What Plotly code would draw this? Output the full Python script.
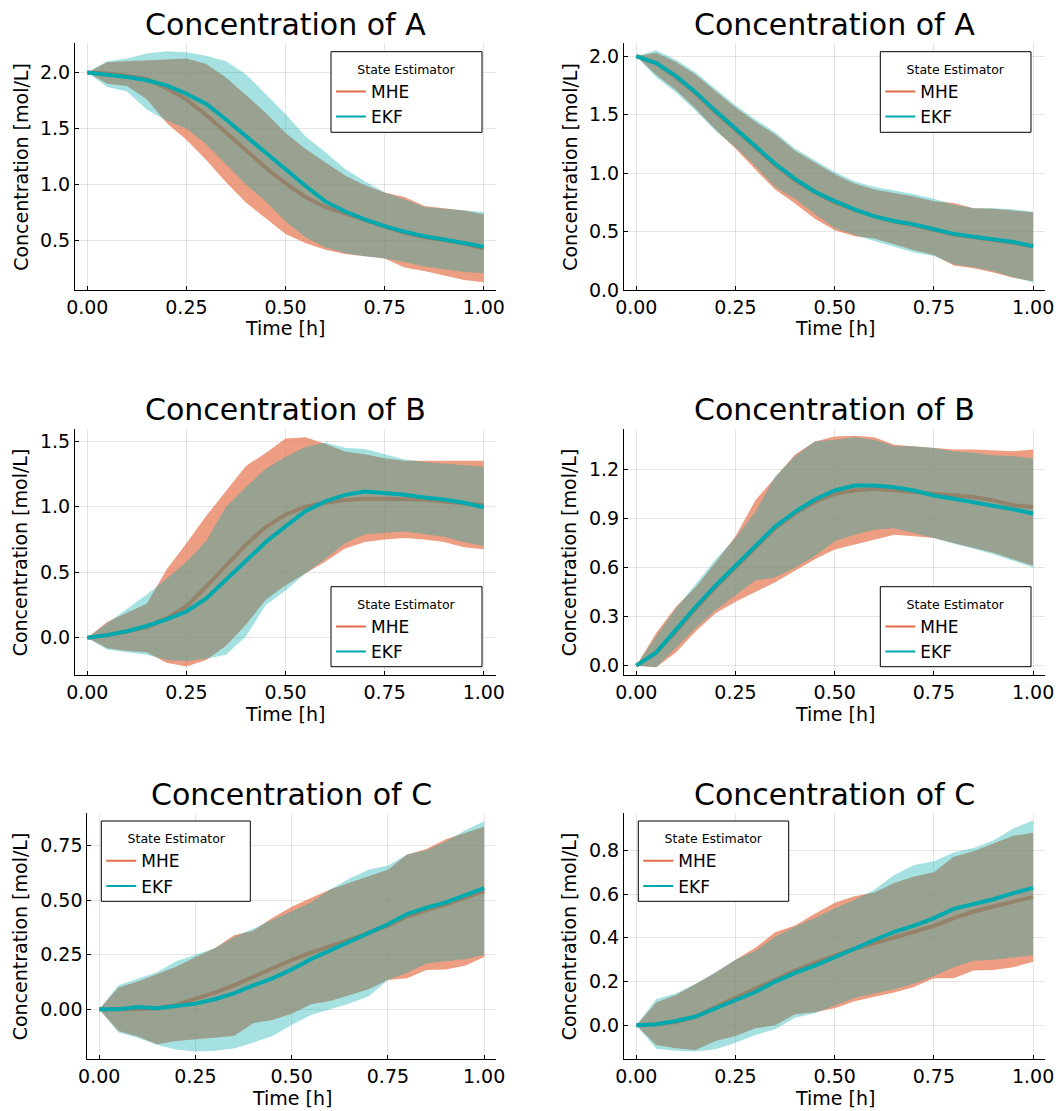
import plotly.graph_objects as go

# ---------------- data ----------------
time_h = [0.00, 0.05, 0.10, 0.15, 0.20, 0.25, 0.30, 0.35, 0.40, 0.45, 0.50,
          0.55, 0.60, 0.65, 0.70, 0.75, 0.80, 0.85, 0.90, 0.95, 1.00]

# Panel 1: Concentration of A (left)
A1_MHE_mean = [2.00, 1.99, 1.97, 1.94, 1.86, 1.76, 1.62, 1.46, 1.30, 1.15, 1.01, 0.89, 0.80, 0.74, 0.68, 0.625, 0.57, 0.53, 0.505, 0.475, 0.43]
A1_MHE_hi = [2.00, 2.09, 2.10, 2.11, 2.12, 2.125, 2.075, 1.955, 1.80, 1.64, 1.46, 1.32, 1.20, 1.08, 0.995, 0.93, 0.89, 0.81, 0.79, 0.77, 0.735]
A1_MHE_lo = [2.00, 1.90, 1.88, 1.76, 1.55, 1.40, 1.22, 1.02, 0.84, 0.70, 0.56, 0.48, 0.42, 0.38, 0.36, 0.34, 0.26, 0.23, 0.19, 0.15, 0.13]
A1_EKF_mean = [2.00, 1.98, 1.96, 1.93, 1.885, 1.81, 1.72, 1.58, 1.43, 1.29, 1.13, 0.99, 0.85, 0.76, 0.69, 0.63, 0.58, 0.54, 0.51, 0.48, 0.445]
A1_EKF_hi = [2.00, 2.10, 2.125, 2.17, 2.19, 2.18, 2.15, 2.10, 1.985, 1.81, 1.63, 1.43, 1.29, 1.14, 1.03, 0.93, 0.87, 0.80, 0.785, 0.77, 0.755]
A1_EKF_lo = [2.00, 1.87, 1.83, 1.67, 1.57, 1.50, 1.36, 1.18, 1.00, 0.85, 0.67, 0.53, 0.44, 0.39, 0.36, 0.34, 0.31, 0.27, 0.245, 0.22, 0.21]

# Panel 2: Concentration of A (right)
A2_MHE_mean = [2.00, 1.94, 1.82, 1.68, 1.52, 1.37, 1.21, 1.07, 0.94, 0.835, 0.75, 0.685, 0.63, 0.585, 0.555, 0.515, 0.475, 0.45, 0.43, 0.405, 0.37]
A2_MHE_hi = [2.00, 2.03, 1.95, 1.84, 1.70, 1.56, 1.44, 1.33, 1.19, 1.09, 0.99, 0.91, 0.86, 0.83, 0.80, 0.76, 0.745, 0.70, 0.695, 0.68, 0.665]
A2_MHE_lo = [2.00, 1.84, 1.71, 1.55, 1.37, 1.21, 1.03, 0.86, 0.74, 0.61, 0.51, 0.46, 0.44, 0.39, 0.34, 0.30, 0.21, 0.185, 0.15, 0.105, 0.075]
A2_EKF_mean = [2.00, 1.94, 1.83, 1.69, 1.53, 1.38, 1.22, 1.08, 0.95, 0.84, 0.76, 0.69, 0.63, 0.59, 0.56, 0.52, 0.48, 0.455, 0.435, 0.41, 0.375]
A2_EKF_hi = [2.00, 2.05, 1.97, 1.86, 1.72, 1.58, 1.46, 1.35, 1.21, 1.11, 1.01, 0.93, 0.88, 0.85, 0.82, 0.78, 0.73, 0.70, 0.70, 0.69, 0.67]
A2_EKF_lo = [2.00, 1.82, 1.69, 1.53, 1.36, 1.22, 1.06, 0.88, 0.78, 0.65, 0.53, 0.47, 0.42, 0.37, 0.32, 0.29, 0.22, 0.195, 0.16, 0.11, 0.065]

# Panel 3: Concentration of B (left)
B1_MHE_mean = [0.00, 0.02, 0.05, 0.08, 0.15, 0.24, 0.39, 0.55, 0.71, 0.845, 0.94, 1.00, 1.03, 1.05, 1.06, 1.06, 1.06, 1.055, 1.04, 1.025, 1.01]
B1_MHE_hi = [0.00, 0.12, 0.19, 0.26, 0.52, 0.72, 0.93, 1.12, 1.31, 1.41, 1.52, 1.53, 1.48, 1.42, 1.40, 1.37, 1.35, 1.35, 1.35, 1.35, 1.35]
B1_MHE_lo = [0.00, -0.08, -0.10, -0.11, -0.19, -0.22, -0.17, -0.06, 0.10, 0.29, 0.40, 0.49, 0.58, 0.68, 0.73, 0.75, 0.76, 0.75, 0.73, 0.69, 0.675]
B1_EKF_mean = [0.00, 0.02, 0.05, 0.09, 0.14, 0.20, 0.30, 0.44, 0.58, 0.73, 0.85, 0.965, 1.04, 1.09, 1.115, 1.105, 1.09, 1.07, 1.055, 1.03, 0.995]
B1_EKF_hi = [0.00, 0.11, 0.22, 0.33, 0.45, 0.58, 0.74, 1.00, 1.15, 1.29, 1.38, 1.455, 1.49, 1.45, 1.44, 1.40, 1.36, 1.34, 1.33, 1.32, 1.305]
B1_EKF_lo = [0.00, -0.09, -0.11, -0.13, -0.17, -0.18, -0.16, -0.13, 0.01, 0.25, 0.36, 0.49, 0.60, 0.72, 0.79, 0.80, 0.81, 0.79, 0.77, 0.73, 0.70]

# Panel 4: Concentration of B (right)
B2_MHE_mean = [0.00, 0.08, 0.21, 0.35, 0.48, 0.60, 0.72, 0.84, 0.93, 1.00, 1.05, 1.07, 1.08, 1.07, 1.06, 1.05, 1.04, 1.03, 1.01, 0.98, 0.97]
B2_MHE_hi = [0.00, 0.20, 0.36, 0.48, 0.63, 0.79, 1.01, 1.15, 1.29, 1.37, 1.40, 1.405, 1.395, 1.35, 1.34, 1.33, 1.32, 1.32, 1.315, 1.31, 1.32]
B2_MHE_lo = [0.00, -0.01, 0.08, 0.21, 0.32, 0.39, 0.45, 0.51, 0.58, 0.65, 0.71, 0.74, 0.77, 0.80, 0.79, 0.78, 0.75, 0.72, 0.69, 0.65, 0.61]
B2_EKF_mean = [0.00, 0.08, 0.22, 0.36, 0.49, 0.61, 0.73, 0.85, 0.94, 1.015, 1.07, 1.10, 1.10, 1.09, 1.07, 1.04, 1.02, 1.00, 0.98, 0.955, 0.93]
B2_EKF_hi = [0.00, 0.18, 0.35, 0.50, 0.65, 0.78, 0.94, 1.155, 1.28, 1.37, 1.38, 1.395, 1.38, 1.34, 1.34, 1.33, 1.31, 1.30, 1.285, 1.28, 1.267]
B2_EKF_lo = [0.00, -0.01, 0.11, 0.23, 0.34, 0.43, 0.52, 0.54, 0.60, 0.67, 0.76, 0.80, 0.83, 0.84, 0.81, 0.78, 0.745, 0.715, 0.68, 0.64, 0.60]

# Panel 5: Concentration of C (left)
C1_MHE_mean = [0.00, 0.00, 0.00, 0.005, 0.02, 0.049, 0.076, 0.11, 0.15, 0.186, 0.226, 0.26, 0.287, 0.318, 0.35, 0.385, 0.425, 0.455, 0.48, 0.51, 0.542]
C1_MHE_hi = [0.00, 0.10, 0.127, 0.16, 0.195, 0.24, 0.28, 0.34, 0.36, 0.42, 0.47, 0.51, 0.55, 0.58, 0.61, 0.64, 0.71, 0.735, 0.78, 0.81, 0.837]
C1_MHE_lo = [0.00, -0.10, -0.125, -0.16, -0.145, -0.137, -0.13, -0.122, -0.064, -0.049, -0.021, 0.023, 0.038, 0.066, 0.092, 0.134, 0.142, 0.18, 0.183, 0.20, 0.24]
C1_EKF_mean = [0.00, 0.00, 0.01, 0.005, 0.015, 0.026, 0.046, 0.073, 0.11, 0.142, 0.183, 0.23, 0.27, 0.31, 0.35, 0.39, 0.437, 0.466, 0.49, 0.524, 0.556]
C1_EKF_hi = [0.00, 0.11, 0.14, 0.17, 0.22, 0.25, 0.28, 0.33, 0.37, 0.41, 0.45, 0.49, 0.55, 0.60, 0.64, 0.66, 0.71, 0.73, 0.77, 0.82, 0.863]
C1_EKF_lo = [0.00, -0.107, -0.13, -0.163, -0.186, -0.194, -0.19, -0.18, -0.153, -0.122, -0.072, -0.026, 0.00, 0.027, 0.06, 0.134, 0.168, 0.21, 0.22, 0.23, 0.25]

# Panel 6: Concentration of C (right)
C2_MHE_mean = [0.00, 0.005, 0.015, 0.04, 0.085, 0.127, 0.165, 0.207, 0.25, 0.287, 0.32, 0.35, 0.375, 0.40, 0.427, 0.454, 0.49, 0.52, 0.543, 0.565, 0.587]
C2_MHE_hi = [0.00, 0.104, 0.139, 0.19, 0.24, 0.30, 0.355, 0.425, 0.456, 0.51, 0.56, 0.59, 0.607, 0.65, 0.68, 0.70, 0.77, 0.795, 0.83, 0.866, 0.88]
C2_MHE_lo = [0.00, -0.09, -0.105, -0.113, -0.072, -0.049, -0.014, 0.00, 0.05, 0.06, 0.078, 0.11, 0.13, 0.15, 0.175, 0.215, 0.215, 0.25, 0.253, 0.265, 0.29]
C2_EKF_mean = [0.00, 0.005, 0.02, 0.04, 0.078, 0.113, 0.152, 0.20, 0.24, 0.273, 0.31, 0.35, 0.39, 0.427, 0.456, 0.49, 0.532, 0.555, 0.576, 0.604, 0.628]
C2_EKF_hi = [0.00, 0.119, 0.146, 0.19, 0.244, 0.30, 0.34, 0.405, 0.45, 0.49, 0.535, 0.573, 0.62, 0.687, 0.733, 0.75, 0.79, 0.81, 0.845, 0.90, 0.936]
C2_EKF_lo = [0.00, -0.107, -0.116, -0.12, -0.11, -0.08, -0.044, -0.018, 0.035, 0.055, 0.09, 0.125, 0.145, 0.165, 0.19, 0.225, 0.265, 0.295, 0.30, 0.31, 0.32]

# tick labels
x_tickvals = [0.0, 0.25, 0.5, 0.75, 1.0]
x_ticktext = ["0.00", "0.25", "0.50", "0.75", "1.00"]
A1_yticks = ([0.5, 1.0, 1.5, 2.0], ["0.5", "1.0", "1.5", "2.0"])
A2_yticks = ([0.0, 0.5, 1.0, 1.5, 2.0], ["0.0", "0.5", "1.0", "1.5", "2.0"])
B1_yticks = ([0.0, 0.5, 1.0, 1.5], ["0.0", "0.5", "1.0", "1.5"])
B2_yticks = ([0.0, 0.3, 0.6, 0.9, 1.2], ["0.0", "0.3", "0.6", "0.9", "1.2"])
C1_yticks = ([0.0, 0.25, 0.5, 0.75], ["0.00", "0.25", "0.50", "0.75"])
C2_yticks = ([0.0, 0.2, 0.4, 0.6, 0.8], ["0.0", "0.2", "0.4", "0.6", "0.8"])

titles = ["Concentration of A", "Concentration of A", "Concentration of B",
          "Concentration of B", "Concentration of C", "Concentration of C"]
estimators = ["MHE", "EKF"]
x_label = "Time [h]"
y_label = "Concentration [mol/L]"
legend_title = "State Estimator"

# ---------------- styling / layout ----------------
W, H = 1062, 1111
FONT = "DejaVu Sans"
COLORS = {"MHE": "#E36F47", "EKF": "#00A9AD"}
FILLS = {"MHE": "rgba(227,111,71,0.68)", "EKF": "rgba(0,169,173,0.35)"}

series = [
    {"MHE": (A1_MHE_mean, A1_MHE_lo, A1_MHE_hi), "EKF": (A1_EKF_mean, A1_EKF_lo, A1_EKF_hi)},
    {"MHE": (A2_MHE_mean, A2_MHE_lo, A2_MHE_hi), "EKF": (A2_EKF_mean, A2_EKF_lo, A2_EKF_hi)},
    {"MHE": (B1_MHE_mean, B1_MHE_lo, B1_MHE_hi), "EKF": (B1_EKF_mean, B1_EKF_lo, B1_EKF_hi)},
    {"MHE": (B2_MHE_mean, B2_MHE_lo, B2_MHE_hi), "EKF": (B2_EKF_mean, B2_EKF_lo, B2_EKF_hi)},
    {"MHE": (C1_MHE_mean, C1_MHE_lo, C1_MHE_hi), "EKF": (C1_EKF_mean, C1_EKF_lo, C1_EKF_hi)},
    {"MHE": (C2_MHE_mean, C2_MHE_lo, C2_MHE_hi), "EKF": (C2_EKF_mean, C2_EKF_lo, C2_EKF_hi)},
]
yticks = [A1_yticks, A2_yticks, B1_yticks, B2_yticks, C1_yticks, C2_yticks]
yranges = [[0.06, 2.26], [0.0, 2.11], [-0.284, 1.59], [-0.057, 1.444], [-0.228, 0.899], [-0.154, 0.969]]
xrange_ = [-0.031, 1.03]

# plot-area rectangles in pixels (left, top, right, bottom)
rects = [
    (75, 43.3, 495.7, 290), (624, 43.3, 1045, 290),
    (75, 429.3, 495.7, 675), (624, 429.3, 1045, 675),
    (87.3, 813.3, 495.7, 1059), (624, 813.3, 1045, 1059),
]
# title cap-centre y, x-label centre y, y-label centre x
title_y = [24.2, 24.2, 409.4, 409.4, 794, 794]
xlab_y = [327.6, 327.6, 714.5, 714.5, 1097.8, 1097.8]
ylab_x = [20.2, 569.2, 20.2, 569.2, 20.2, 569.2]
# legend boxes (left, top, right, bottom)
leg_boxes = [
    (331, 51.7, 482, 132.3), (880.3, 51.7, 1031, 132.3),
    (331, 586.7, 482, 666.7), (880.3, 586.7, 1031, 666.7),
    (101.3, 821, 250.3, 901.3), (638.3, 821, 788.7, 901.3),
]


def px(x):
    return x / W


def py(y):
    return 1 - y / H


fig = go.Figure()
layout = dict(
    template="none",
    width=W, height=H, margin=dict(l=0, r=0, t=0, b=0, pad=0, autoexpand=False),
    paper_bgcolor="white", plot_bgcolor="white",
    font=dict(family=FONT, color="black"),
    hovermode=False,
    annotations=[], shapes=[],
)

for i in range(6):
    n = "" if i == 0 else str(i + 1)
    xa, ya = "x" + n, "y" + n
    legname = "legend" + n
    for est in estimators:
        mean, lo, hi = series[i][est]
        fig.add_trace(go.Scatter(x=time_h, y=hi, mode="lines", line=dict(width=0, color=COLORS[est]),
                                 showlegend=False, hoverinfo="skip", xaxis=xa, yaxis=ya))
        fig.add_trace(go.Scatter(x=time_h, y=lo, mode="lines", line=dict(width=0, color=COLORS[est]),
                                 fill="tonexty", fillcolor=FILLS[est],
                                 showlegend=False, hoverinfo="skip", xaxis=xa, yaxis=ya))
        fig.add_trace(go.Scatter(x=time_h, y=mean, mode="lines", line=dict(width=4, color=COLORS[est]),
                                 name=est, showlegend=False, xaxis=xa, yaxis=ya))
    for est in estimators:
        fig.add_trace(go.Scatter(x=[None], y=[None], mode="lines", line=dict(width=2, color=COLORS[est]),
                                 name=est, showlegend=True, legend=legname, xaxis=xa, yaxis=ya))

    l, t, r, b = rects[i]
    common = dict(showline=True, linecolor="black", linewidth=1, mirror=False,
                  ticks="inside", ticklen=4, tickcolor="black", tickwidth=1,
                  showgrid=True, gridcolor="rgba(0,0,0,0.1)", gridwidth=1,
                  zeroline=False, automargin=False, fixedrange=True,
                  tickfont=dict(family=FONT, size=19, color="black"))
    layout["xaxis" + n] = dict(domain=[px(l), px(r)], range=xrange_, anchor=ya,
                               tickvals=x_tickvals, ticktext=x_ticktext, **common)
    layout["yaxis" + n] = dict(domain=[py(b), py(t)], range=yranges[i], anchor=xa,
                               tickvals=yticks[i][0], ticktext=yticks[i][1], **common)

    cx = (l + r) / 2
    layout["annotations"].append(dict(text=titles[i], xref="paper", yref="paper", x=px(cx), y=py(title_y[i]),
                                      xanchor="center", yanchor="middle", showarrow=False,
                                      font=dict(family=FONT, size=30, color="black")))
    layout["annotations"].append(dict(text=x_label, xref="paper", yref="paper", x=px(cx), y=py(xlab_y[i]),
                                      xanchor="center", yanchor="middle", showarrow=False,
                                      font=dict(family=FONT, size=19, color="black")))
    layout["annotations"].append(dict(text=y_label, xref="paper", yref="paper", x=px(ylab_x[i]), y=py((t + b) / 2),
                                      xanchor="center", yanchor="middle", showarrow=False, textangle=-90,
                                      font=dict(family=FONT, size=19, color="black")))

    bl, bt, br, bb = leg_boxes[i]
    layout["shapes"].append(dict(type="rect", xref="paper", yref="paper", x0=px(bl), x1=px(br),
                                 y0=py(bb), y1=py(bt), line=dict(color="black", width=1),
                                 fillcolor="white", layer="above"))
    pad = "\u00a0" * 6
    layout[legname] = dict(x=px(bl), y=py(bt + 6), xanchor="left", yanchor="top",
                           bgcolor="rgba(0,0,0,0)", borderwidth=0, traceorder="normal",
                           font=dict(family=FONT, size=17, color="black"),
                           title=dict(text=pad + legend_title + pad, side="top center",
                                      font=dict(family=FONT, size=12.5, color="black")))

fig.update_layout(**layout)
fig.write_html("out.html", config={"displayModeBar": False, "staticPlot": True},
               post_script="document.body.style.margin='0px';")
